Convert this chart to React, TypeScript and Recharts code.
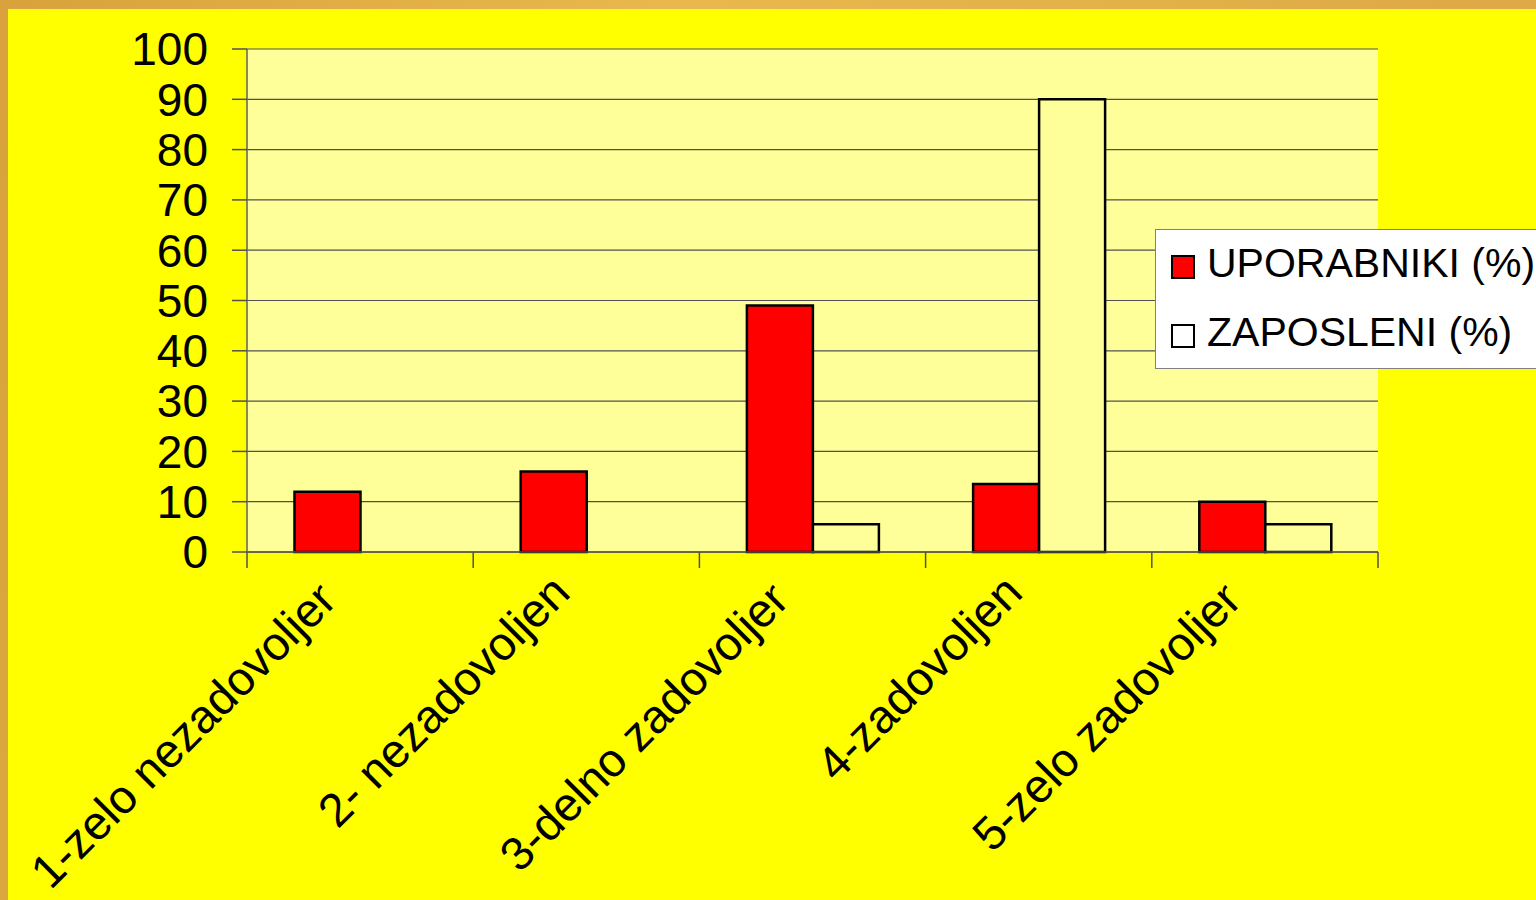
import { BarChart, Bar, XAxis, YAxis, CartesianGrid } from "recharts";

const categories = [
  "1-zelo nezadovoljen",
  "2- nezadovoljen",
  "3-delno zadovoljen",
  "4-zadovoljen",
  "5-zelo zadovoljen",
];
const uporabniki = [12, 16, 49, 13.5, 10];
const zaposleni = [0, 0, 5.5, 90, 5.5];
const yTicks = [0, 10, 20, 30, 40, 50, 60, 70, 80, 90, 100];

const seriesNames = ["UPORABNIKI (%)", "ZAPOSLENI (%)"];
const FONT = "'Liberation Sans', Arial, sans-serif";
const RED = "#FF0000";
const PALE = "#FFFF99";

const data = categories.map((name, i) => ({
  name,
  u: uporabniki[i],
  z: zaposleni[i],
}));

// category labels: rotated, long ones get cut off at the end like in the original
function CategoryTick(props: any) {
  const { x, y, payload, index, visibleTicksCount } = props;
  const half = payload.offset || 113;
  const label = String(payload.value);
  const cut = label.length > 16;
  const id = `xclip-${index}`;
  return (
    <g>
      <line x1={x - half} x2={x - half} y1={y} y2={y + 16} stroke="#505050" strokeWidth={1.5} />
      {index === visibleTicksCount - 1 && (
        <line x1={x + half} x2={x + half} y1={y} y2={y + 16} stroke="#505050" strokeWidth={1.5} />
      )}
      <g transform={`translate(${x - 14},${y + 43}) rotate(-45)`}>
        {cut && (
          <defs>
            <clipPath id={id}>
              <rect x={-2000} y={-100} width={2000 - 11} height={200} />
            </clipPath>
          </defs>
        )}
        <text
          x={0}
          y={0}
          textAnchor="end"
          fontSize={47}
          fontFamily={FONT}
          fill="#000"
          clipPath={cut ? `url(#${id})` : undefined}
        >
          {label}
        </text>
      </g>
    </g>
  );
}

function LegendBox() {
  const fills = [RED, "#FFFFFF"];
  return (
    <div
      style={{
        position: "absolute",
        left: 1155,
        top: 229,
        width: 400,
        height: 140,
        background: "#fff",
        border: "1px solid #808080",
        boxSizing: "border-box",
        fontFamily: FONT,
      }}
    >
      {seriesNames.map((n, i) => (
        <div
          key={n}
          style={{
            position: "absolute",
            left: 15,
            top: 13 + i * 69,
            height: 41,
            display: "flex",
            alignItems: "center",
            whiteSpace: "nowrap",
          }}
        >
          <div
            style={{
              width: 24,
              height: 24,
              boxSizing: "border-box",
              border: "2px solid #000",
              background: fills[i],
              marginTop: 6,
              marginRight: 12,
            }}
          />
          <span style={{ fontSize: 41, lineHeight: "41px", color: "#000" }}>{n}</span>
        </div>
      ))}
    </div>
  );
}

export default function App() {
  return (
    <div
      style={{
        position: "absolute",
        left: 0,
        top: 0,
        width: 1536,
        height: 900,
        overflow: "hidden",
        background: "linear-gradient(100deg, #d9a23c, #e9b84c 40%, #dca645)",
      }}
    >
      <div
        style={{
          position: "absolute",
          left: 8,
          top: 9,
          width: 1528,
          height: 891,
          background: "#FFFF00",
        }}
      >
        <BarChart
          width={1528}
          height={891}
          data={data}
          margin={{ top: 40, right: 158, left: 0, bottom: 0 }}
          barCategoryGap="21%"
          barGap={0}
        >
          <CartesianGrid
            vertical={false}
            stroke="#505050"
            strokeWidth={1.2}
            fill={PALE}
            fillOpacity={1}
          />
          <XAxis
            dataKey="name"
            height={348}
            interval={0}
            tickSize={0}
            tickMargin={0}
            tickLine={false}
            axisLine={{ stroke: "#505050", strokeWidth: 1.5 }}
            tick={<CategoryTick />}
          />
          <YAxis
            width={239}
            domain={[0, 100]}
            ticks={yTicks}
            interval={0}
            tickSize={15}
            tickMargin={24}
            tickLine={{ stroke: "#505050", strokeWidth: 1.5 }}
            axisLine={{ stroke: "#606060", strokeWidth: 1.5 }}
            tick={{ fontSize: 46, fill: "#000", fontFamily: FONT }}
          />
          <YAxis
            yAxisId="frame"
            orientation="right"
            width={0}
            tick={false}
            tickLine={false}
            axisLine={{ stroke: "#909090", strokeWidth: 2 }}
          />
          <Bar
            dataKey="u"
            name={seriesNames[0]}
            fill={RED}
            stroke="#000"
            strokeWidth={2.5}
            isAnimationActive={false}
          />
          <Bar
            dataKey="z"
            name={seriesNames[1]}
            fill={PALE}
            stroke="#000"
            strokeWidth={2.5}
            isAnimationActive={false}
          />
        </BarChart>
      </div>
      <LegendBox />
    </div>
  );
}
